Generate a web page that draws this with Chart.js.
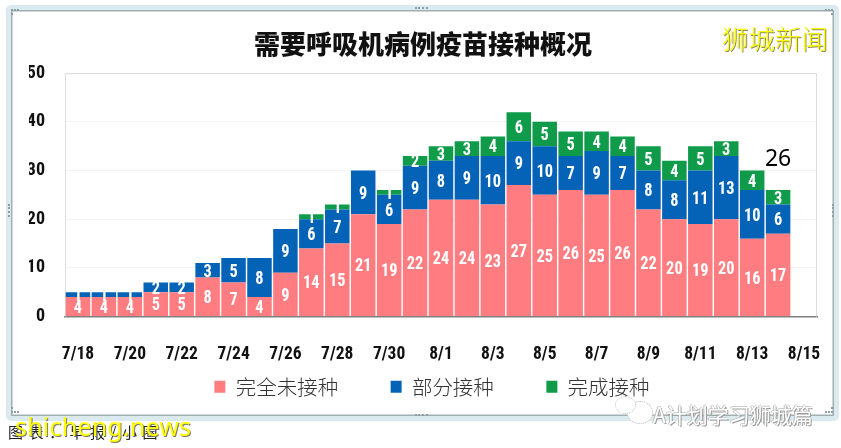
<!DOCTYPE html>
<html lang="zh">
<head>
<meta charset="utf-8">
<script src="https://cdn.jsdelivr.net/npm/chart.js@4"></script>
<style>
html,body{margin:0;padding:0;background:#fff;width:841px;height:448px;overflow:hidden}
#wrap{position:relative;width:841px;height:448px}
#frame{position:absolute;left:6px;top:5px;width:823px;height:406px;box-sizing:content-box;border:5px solid #dbeaef;box-shadow:inset 0 0 0 1.5px #9fb0b3;border-radius:5px}
canvas{position:absolute;left:0;top:0}
.t{position:absolute;white-space:nowrap;line-height:1}
#wm1{left:722px;top:18px;font:300 26.5px 'Noto Sans CJK SC';color:#ffff00;text-shadow:1px 1px 0 #8a8a6a}
#src{left:8px;top:421px;font:400 15px 'Noto Sans CJK SC';color:#222;letter-spacing:5.5px}
#wm2{left:15px;top:409px;font:400 25px 'Noto Sans';color:#ffff00;text-shadow:1px 1px 0 #777;letter-spacing:.2px}
#wm3{left:653px;top:399px;font:400 21px 'Noto Sans CJK SC';color:#fff;text-shadow:1px 1px 0 #9a9a9a,-1px 0 0 #bbb,0 -1px 0 #ccc}
.h{position:absolute;border:0 dotted #8f9ea2}
.b{position:absolute;border:1px dotted #bbb;background:#fff}
</style>
</head>
<body>
<div id="wrap">
<div id="frame"></div>
<div class="h" style="left:415px;top:7px;width:13px;border-top-width:2px"></div>
<div class="h" style="left:415px;top:414px;width:13px;border-top-width:2px"></div>
<div class="h" style="left:8px;top:204px;height:13px;border-left-width:2px"></div>
<div class="h" style="left:832px;top:204px;height:13px;border-left-width:2px"></div>
<div class="h" style="left:11px;top:9px;width:6px;height:4px;border-top-width:2px;border-left-width:2px"></div>
<div class="h" style="left:825px;top:9px;width:6px;height:4px;border-top-width:2px;border-right-width:2px"></div>
<div class="h" style="left:11px;top:407px;width:6px;height:4px;border-bottom-width:2px;border-left-width:2px"></div>
<div class="h" style="left:825px;top:407px;width:6px;height:4px;border-bottom-width:2px;border-right-width:2px"></div>
<canvas id="c" width="841" height="448"></canvas>
<div class="b" style="left:627px;top:401px;width:24px;height:21px;border-radius:50%"></div>
<div class="b" style="left:615px;top:396px;width:19px;height:16px;border-radius:50%"></div>
<div class="t" id="wm1">狮城新闻</div>
<div class="t" id="src">图表：早报/小圈</div>
<div class="t" id="wm2">shicheng.news</div>
<div class="t" id="wm3">A计划学习狮城篇</div>
</div>
<script>
const categories = ['7/18','7/19','7/20','7/21','7/22','7/23','7/24','7/25','7/26','7/27','7/28','7/29','7/30','7/31','8/1','8/2','8/3','8/4','8/5','8/6','8/7','8/8','8/9','8/10','8/11','8/12','8/13','8/14','8/15'];
const unvaccinated = [4,4,4,5,5,8,7,4,9,14,15,21,19,22,24,24,23,27,25,26,25,26,22,20,19,20,16,17,null];
const partial = [1,1,1,2,2,3,5,8,9,6,7,9,6,9,8,9,10,9,10,7,9,7,8,8,11,13,10,6,null];
const full = [0,0,0,0,0,0,0,0,0,1,1,0,1,2,3,3,4,6,5,5,4,4,5,4,5,3,4,3,null];
const seriesNames = ['完全未接种','部分接种','完成接种'];
const seriesColors = ['#ff7c80','#0563b7','#0f9b4a'];
const yTicks = [0,10,20,30,40,50];
const chartTitle = '需要呼吸机病例疫苗接种概况';
const calloutIndex = 27;
const calloutValue = 26;

const NUM = "'Roboto Condensed','DejaVu Sans Condensed',Roboto,sans-serif";

const segmentLabels = {
  id:'segmentLabels',
  afterDatasetsDraw(chart){
    const {ctx} = chart;
    ctx.save();
    ctx.fillStyle='#fff';
    ctx.font="bold 19px "+NUM;
    ctx.textAlign='center';
    ctx.textBaseline='middle';
    chart.data.datasets.forEach((ds,i)=>{
      chart.getDatasetMeta(i).data.forEach((el,j)=>{
        const v = ds.data[j];
        if(!v) return;
        ctx.save();
        ctx.translate(el.x,(el.y+el.base)/2+1.5);
        ctx.scale(.86,1);
        ctx.fillText(String(v),0,0);
        ctx.restore();
      });
    });
    ctx.fillStyle='#000';
    ctx.font="400 23px 'Noto Sans'";
    const el = chart.getDatasetMeta(2).data[calloutIndex];
    ctx.fillText(String(calloutValue), el.x, chart.scales.y.getPixelForValue(calloutValue)-31);
    ctx.restore();
  }
};
const plotBorder = {
  id:'plotBorder',
  beforeDatasetsDraw(chart){
    const {ctx,chartArea:a} = chart;
    ctx.save();
    ctx.strokeStyle='#dcdcdc';
    ctx.lineWidth=1;
    ctx.beginPath();
    ctx.moveTo(a.left+.5,a.bottom);ctx.lineTo(a.left+.5,a.top+.5);
    ctx.lineTo(a.right-.5,a.top+.5);ctx.lineTo(a.right-.5,a.bottom);
    ctx.stroke();
    ctx.restore();
  }
};
const legendPlace = {
  id:'legendPlace',
  afterLayout(chart){
    const l = chart.legend;
    l.left += 9; l.right += 9;
    l.top -= 52; l.bottom -= 52;
  }
};

new Chart(document.getElementById('c'),{
  type:'bar',
  data:{
    labels:categories,
    datasets:[unvaccinated,partial,full].map((d,i)=>({
      label:seriesNames[i],data:d,backgroundColor:seriesColors[i],borderWidth:0,
      categoryPercentage:1,barPercentage:.945,stack:'s'
    }))
  },
  plugins:[segmentLabels,plotBorder,legendPlace],
  options:{
    responsive:false,animation:false,
    layout:{padding:{left:29,right:24,bottom:-11,top:0}},
    plugins:{
      tooltip:{enabled:false},
      title:{display:true,text:chartTitle,color:'#111',
        font:{family:"'Noto Sans CJK SC'",size:26,weight:'900'},
        padding:{top:29,bottom:13}},
      legend:{position:'bottom',
        labels:{boxWidth:11,boxHeight:12,padding:52.5,color:'#333',
          font:{family:"'Noto Sans CJK SC'",size:20.5,weight:'300'}}}
    },
    scales:{
      x:{stacked:true,
        afterFit(s){s.height=59.5;},
        grid:{display:false},
        border:{color:'#808080',width:1.5},
        ticks:{autoSkip:false,maxRotation:0,minRotation:0,padding:20,color:'#111',
          font:{family:NUM,size:17.5,weight:'bold'},
          callback(v,i){return i%2===0?categories[i]:'';}}
      },
      y:{stacked:true,min:0,max:50,
        afterFit(s){s.width=36;},
        afterBuildTicks(s){s.ticks=yTicks.map(v=>({value:v}));},
        grid:{color:'#f3f3f3',drawTicks:false},
        border:{display:false},
        ticks:{padding:20,color:'#111',font:{family:NUM,size:18,weight:'bold'}}
      }
    }
  }
});
</script>
</body>
</html>
